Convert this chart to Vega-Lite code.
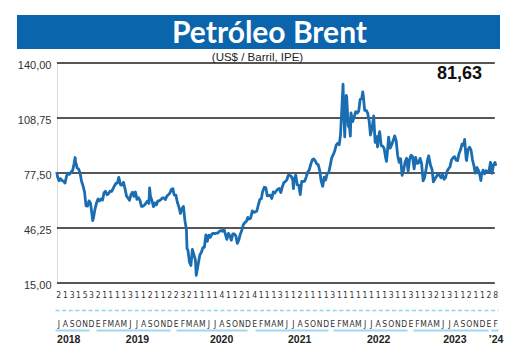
{
  "$schema": "https://vega.github.io/schema/vega-lite/v6.json",
  "background": "white",
  "padding": {"left": 17, "top": 15, "right": 5, "bottom": 5},
  "config": {"view": {"stroke": null}},
  "datasets": {
    "brent": [
      {"date":"2018-07-09","value":78.1},{"date":"2018-07-13","value":75.3},{"date":"2018-07-20","value":73.1},{"date":"2018-07-27","value":74.3},
      {"date":"2018-08-03","value":73.2},{"date":"2018-08-10","value":72.8},{"date":"2018-08-17","value":71.8},{"date":"2018-08-24","value":75.8},{"date":"2018-08-31","value":77.4},
      {"date":"2018-09-07","value":76.8},{"date":"2018-09-14","value":78.1},{"date":"2018-09-21","value":78.8},{"date":"2018-09-28","value":82.7},
      {"date":"2018-10-03","value":86.3},{"date":"2018-10-05","value":84.2},{"date":"2018-10-12","value":80.4},{"date":"2018-10-19","value":79.8},{"date":"2018-10-26","value":77.6},
      {"date":"2018-11-02","value":72.8},{"date":"2018-11-09","value":70.2},{"date":"2018-11-16","value":66.8},{"date":"2018-11-23","value":58.8},{"date":"2018-11-30","value":58.7},
      {"date":"2018-12-07","value":61.7},{"date":"2018-12-14","value":60.3},{"date":"2018-12-21","value":53.8},{"date":"2018-12-24","value":50.5},{"date":"2018-12-28","value":52.2},
      {"date":"2019-01-04","value":57.1},{"date":"2019-01-11","value":60.5},{"date":"2019-01-18","value":62.7},{"date":"2019-01-25","value":61.6},
      {"date":"2019-02-01","value":62.8},{"date":"2019-02-08","value":62.1},{"date":"2019-02-15","value":66.3},{"date":"2019-02-22","value":67.1},
      {"date":"2019-03-01","value":65.1},{"date":"2019-03-08","value":65.7},{"date":"2019-03-15","value":67.2},{"date":"2019-03-22","value":67.0},{"date":"2019-03-29","value":68.4},
      {"date":"2019-04-05","value":70.3},{"date":"2019-04-12","value":71.6},{"date":"2019-04-19","value":71.9},{"date":"2019-04-25","value":75.0},
      {"date":"2019-05-03","value":70.8},{"date":"2019-05-10","value":70.6},{"date":"2019-05-17","value":72.2},{"date":"2019-05-24","value":68.7},{"date":"2019-05-31","value":64.5},
      {"date":"2019-06-07","value":63.3},{"date":"2019-06-14","value":62.0},{"date":"2019-06-21","value":65.2},{"date":"2019-06-28","value":66.6},
      {"date":"2019-07-05","value":64.2},{"date":"2019-07-12","value":66.7},{"date":"2019-07-19","value":62.5},{"date":"2019-07-26","value":63.5},
      {"date":"2019-08-02","value":61.9},{"date":"2019-08-09","value":58.5},{"date":"2019-08-16","value":58.6},{"date":"2019-08-23","value":59.3},{"date":"2019-08-30","value":60.4},
      {"date":"2019-09-06","value":61.5},{"date":"2019-09-13","value":60.2},{"date":"2019-09-16","value":69.0},{"date":"2019-09-20","value":64.3},{"date":"2019-09-27","value":61.9},
      {"date":"2019-10-04","value":58.4},{"date":"2019-10-11","value":60.5},{"date":"2019-10-18","value":59.4},{"date":"2019-10-25","value":61.7},
      {"date":"2019-11-01","value":61.7},{"date":"2019-11-08","value":62.5},{"date":"2019-11-15","value":63.3},{"date":"2019-11-22","value":63.4},{"date":"2019-11-29","value":62.4},
      {"date":"2019-12-06","value":64.4},{"date":"2019-12-13","value":65.2},{"date":"2019-12-20","value":66.1},{"date":"2019-12-27","value":68.2},
      {"date":"2020-01-03","value":68.6},{"date":"2020-01-08","value":65.4},{"date":"2020-01-10","value":65.0},{"date":"2020-01-17","value":64.9},{"date":"2020-01-24","value":60.7},{"date":"2020-01-31","value":58.2},
      {"date":"2020-02-07","value":54.5},{"date":"2020-02-14","value":57.3},{"date":"2020-02-21","value":58.5},{"date":"2020-02-28","value":50.5},
      {"date":"2020-03-06","value":45.3},{"date":"2020-03-09","value":34.4},{"date":"2020-03-13","value":33.9},{"date":"2020-03-20","value":27.0},{"date":"2020-03-27","value":24.9},
      {"date":"2020-04-03","value":34.1},{"date":"2020-04-09","value":31.5},{"date":"2020-04-17","value":28.1},{"date":"2020-04-21","value":19.3},{"date":"2020-04-24","value":21.4},
      {"date":"2020-05-01","value":26.4},{"date":"2020-05-08","value":31.0},{"date":"2020-05-15","value":32.5},{"date":"2020-05-22","value":35.1},{"date":"2020-05-29","value":35.3},
      {"date":"2020-06-05","value":42.3},{"date":"2020-06-12","value":38.7},{"date":"2020-06-19","value":42.2},{"date":"2020-06-26","value":41.0},
      {"date":"2020-07-03","value":42.8},{"date":"2020-07-10","value":43.2},{"date":"2020-07-17","value":43.1},{"date":"2020-07-24","value":43.3},{"date":"2020-07-31","value":43.3},
      {"date":"2020-08-07","value":44.4},{"date":"2020-08-14","value":44.8},{"date":"2020-08-21","value":44.4},{"date":"2020-08-28","value":45.8},
      {"date":"2020-09-04","value":42.7},{"date":"2020-09-11","value":39.8},{"date":"2020-09-18","value":43.2},{"date":"2020-09-25","value":41.9},
      {"date":"2020-10-02","value":39.3},{"date":"2020-10-09","value":42.9},{"date":"2020-10-16","value":42.9},{"date":"2020-10-23","value":41.8},{"date":"2020-10-30","value":37.5},
      {"date":"2020-11-06","value":39.5},{"date":"2020-11-13","value":42.8},{"date":"2020-11-20","value":45.0},{"date":"2020-11-27","value":48.2},
      {"date":"2020-12-04","value":49.3},{"date":"2020-12-11","value":50.0},{"date":"2020-12-18","value":52.3},{"date":"2020-12-24","value":51.3},{"date":"2020-12-31","value":51.8},
      {"date":"2021-01-08","value":56.0},{"date":"2021-01-15","value":55.1},{"date":"2021-01-22","value":55.4},{"date":"2021-01-29","value":55.9},
      {"date":"2021-02-05","value":59.3},{"date":"2021-02-12","value":62.4},{"date":"2021-02-19","value":62.9},{"date":"2021-02-25","value":66.9},
      {"date":"2021-03-05","value":69.4},{"date":"2021-03-12","value":69.2},{"date":"2021-03-19","value":64.5},{"date":"2021-03-26","value":64.6},
      {"date":"2021-04-02","value":64.9},{"date":"2021-04-09","value":63.0},{"date":"2021-04-16","value":66.8},{"date":"2021-04-23","value":66.1},{"date":"2021-04-30","value":67.3},
      {"date":"2021-05-07","value":68.3},{"date":"2021-05-14","value":68.7},{"date":"2021-05-21","value":66.4},{"date":"2021-05-28","value":69.6},
      {"date":"2021-06-04","value":71.9},{"date":"2021-06-11","value":72.7},{"date":"2021-06-18","value":73.5},{"date":"2021-06-25","value":76.2},
      {"date":"2021-07-02","value":76.2},{"date":"2021-07-09","value":75.6},{"date":"2021-07-16","value":73.6},{"date":"2021-07-19","value":68.6},{"date":"2021-07-23","value":74.1},{"date":"2021-07-30","value":76.3},
      {"date":"2021-08-06","value":70.7},{"date":"2021-08-13","value":70.6},{"date":"2021-08-20","value":65.2},{"date":"2021-08-27","value":72.7},
      {"date":"2021-09-03","value":72.6},{"date":"2021-09-10","value":72.9},{"date":"2021-09-17","value":75.3},{"date":"2021-09-24","value":78.1},
      {"date":"2021-10-01","value":79.3},{"date":"2021-10-08","value":82.4},{"date":"2021-10-15","value":84.9},{"date":"2021-10-22","value":85.5},{"date":"2021-10-29","value":84.4},
      {"date":"2021-11-05","value":82.7},{"date":"2021-11-12","value":82.2},{"date":"2021-11-19","value":78.9},{"date":"2021-11-26","value":72.7},
      {"date":"2021-12-03","value":69.9},{"date":"2021-12-10","value":75.2},{"date":"2021-12-17","value":73.5},{"date":"2021-12-23","value":76.9},{"date":"2021-12-31","value":77.8},
      {"date":"2022-01-07","value":81.8},{"date":"2022-01-14","value":86.1},{"date":"2022-01-21","value":87.9},{"date":"2022-01-28","value":90.0},
      {"date":"2022-02-04","value":93.3},{"date":"2022-02-11","value":94.4},{"date":"2022-02-18","value":93.5},{"date":"2022-02-24","value":99.1},
      {"date":"2022-03-04","value":118.1},{"date":"2022-03-08","value":128.0},{"date":"2022-03-11","value":112.7},{"date":"2022-03-16","value":98.0},{"date":"2022-03-18","value":107.9},{"date":"2022-03-23","value":121.6},{"date":"2022-03-25","value":120.7},
      {"date":"2022-04-01","value":104.4},{"date":"2022-04-08","value":102.8},{"date":"2022-04-11","value":98.5},{"date":"2022-04-14","value":111.7},{"date":"2022-04-22","value":106.7},{"date":"2022-04-29","value":109.3},
      {"date":"2022-05-06","value":112.4},{"date":"2022-05-13","value":111.6},{"date":"2022-05-20","value":112.6},{"date":"2022-05-27","value":119.4},
      {"date":"2022-06-03","value":119.7},{"date":"2022-06-08","value":123.6},{"date":"2022-06-10","value":122.0},{"date":"2022-06-17","value":113.1},{"date":"2022-06-24","value":113.1},
      {"date":"2022-07-01","value":111.6},{"date":"2022-07-08","value":107.0},{"date":"2022-07-14","value":99.1},{"date":"2022-07-22","value":103.2},{"date":"2022-07-29","value":110.0},
      {"date":"2022-08-05","value":94.9},{"date":"2022-08-12","value":98.2},{"date":"2022-08-16","value":92.3},{"date":"2022-08-19","value":96.7},{"date":"2022-08-26","value":101.0},
      {"date":"2022-09-02","value":93.0},{"date":"2022-09-09","value":92.8},{"date":"2022-09-16","value":91.4},{"date":"2022-09-23","value":86.2},{"date":"2022-09-27","value":84.1},{"date":"2022-09-30","value":88.0},
      {"date":"2022-10-07","value":97.9},{"date":"2022-10-14","value":91.6},{"date":"2022-10-21","value":93.5},{"date":"2022-10-28","value":95.8},
      {"date":"2022-11-04","value":98.6},{"date":"2022-11-11","value":96.0},{"date":"2022-11-18","value":87.6},{"date":"2022-11-25","value":83.6},
      {"date":"2022-12-02","value":85.6},{"date":"2022-12-09","value":76.1},{"date":"2022-12-16","value":79.0},{"date":"2022-12-23","value":83.9},{"date":"2022-12-30","value":85.9},
      {"date":"2023-01-06","value":78.6},{"date":"2023-01-13","value":85.3},{"date":"2023-01-20","value":87.6},{"date":"2023-01-27","value":86.7},
      {"date":"2023-02-03","value":79.9},{"date":"2023-02-10","value":86.4},{"date":"2023-02-17","value":83.0},{"date":"2023-02-24","value":83.2},
      {"date":"2023-03-03","value":85.8},{"date":"2023-03-10","value":82.8},{"date":"2023-03-17","value":73.0},{"date":"2023-03-24","value":75.0},{"date":"2023-03-31","value":79.8},
      {"date":"2023-04-07","value":85.1},{"date":"2023-04-12","value":87.3},{"date":"2023-04-21","value":81.7},{"date":"2023-04-28","value":79.5},
      {"date":"2023-05-04","value":72.5},{"date":"2023-05-12","value":74.2},{"date":"2023-05-19","value":75.6},{"date":"2023-05-26","value":77.0},
      {"date":"2023-06-02","value":76.1},{"date":"2023-06-09","value":74.8},{"date":"2023-06-16","value":76.6},{"date":"2023-06-23","value":73.9},{"date":"2023-06-30","value":74.9},
      {"date":"2023-07-07","value":78.5},{"date":"2023-07-14","value":79.9},{"date":"2023-07-21","value":81.1},{"date":"2023-07-28","value":85.0},
      {"date":"2023-08-04","value":86.2},{"date":"2023-08-11","value":86.8},{"date":"2023-08-18","value":84.8},{"date":"2023-08-25","value":84.5},
      {"date":"2023-09-01","value":88.6},{"date":"2023-09-08","value":90.7},{"date":"2023-09-15","value":93.9},{"date":"2023-09-22","value":93.3},{"date":"2023-09-27","value":96.6},
      {"date":"2023-10-04","value":85.8},{"date":"2023-10-06","value":84.6},{"date":"2023-10-13","value":90.9},{"date":"2023-10-20","value":92.2},{"date":"2023-10-27","value":90.5},
      {"date":"2023-11-03","value":84.9},{"date":"2023-11-10","value":81.4},{"date":"2023-11-16","value":77.4},{"date":"2023-11-24","value":80.6},
      {"date":"2023-12-01","value":78.9},{"date":"2023-12-08","value":75.8},{"date":"2023-12-12","value":73.2},{"date":"2023-12-15","value":76.6},{"date":"2023-12-22","value":79.1},{"date":"2023-12-29","value":77.0},
      {"date":"2024-01-05","value":78.8},{"date":"2024-01-12","value":78.3},{"date":"2024-01-19","value":78.6},{"date":"2024-01-26","value":83.6},
      {"date":"2024-02-02","value":77.3},{"date":"2024-02-09","value":82.2},{"date":"2024-02-16","value":83.5},{"date":"2024-02-20","value":81.6}
    ],
    "grid": [{"level": 15}, {"level": 46.25}, {"level": 77.5}, {"level": 108.75}, {"level": 140}],
    "last": [{"date":"2023-09-03","value":134,"label":"81,63"}],
    "banner": [{"t":"Petróleo Brent"}]
  },
  "concat": [
    {
      "width": 483,
      "height": 34,
      "view": {"fill": "#0a65ad", "stroke": null},
      "data": {"name": "banner"},
      "mark": {"type": "text", "color": "white", "font": "Lato", "fontSize": 30, "fontWeight": "bold", "baseline": "alphabetic", "dx": 11, "dy": 11},
      "encoding": {"text": {"field": "t"}}
    },
    {
      "width": 481,
      "height": 220,
      "title": {"text": "(US$ / Barril, IPE)", "font": "Liberation Sans", "fontSize": 11.5, "fontWeight": "normal", "color": "#222", "offset": -4, "anchor": "middle"},
      "resolve": {"axis": {"x": "independent"}},
      "layer": [
        {
          "data": {"name": "grid"},
          "mark": {"type": "rule", "color": "#1e1e1e", "strokeWidth": 1.5},
          "encoding": {
            "x": {"datum": {"year": 2018, "month": 7, "date": 10}, "type": "temporal", "axis": null},
            "x2": {"datum": {"year": 2024, "month": 2, "date": 15}},
            "y": {
              "field": "level", "type": "quantitative",
              "scale": {"domain": [15, 140], "nice": false, "zero": false},
              "axis": {
                "title": null, "values": [15, 46.25, 77.5, 108.75, 140], "offset": -40,
                "labelExpr": "replace(format(datum.value, '.2f'), '.', ',')",
                "grid": false, "domain": true, "domainColor": "#dddddd", "ticks": false,
                "labelPadding": 6, "labelOffset": 2, "labelFont": "Liberation Sans", "labelFontSize": 11, "labelColor": "#333"
              }
            }
          }
        },
        {
          "data": {"name": "brent", "format": {"parse": {"date": "date:'%Y-%m-%d'"}}},
          "mark": {"type": "line", "color": "#1b6db2", "strokeWidth": 2.8, "strokeJoin": "round"},
          "encoding": {
            "x": {
              "field": "date", "type": "temporal",
              "scale": {"domain": [{"year": 2018, "month": 7, "date": 1}, {"year": 2024, "month": 3, "date": 1}], "range": [38, 481]},
              "axis": {
                "title": null, "orient": "bottom", "offset": 27, "grid": false, "ticks": false,
                "tickCount": {"interval": "month", "step": 1},
                "domain": true, "domainColor": "#8fd3ee", "domainWidth": 1.5, "domainDash": [4, 2.6],
                "labelExpr": "(year(datum.value)-2018)*12+month(datum.value)-6 > 67 ? '' : [substring('21315321111311211223211114112141113112111131111111131131132131121128', (year(datum.value)-2018)*12+month(datum.value)-6, (year(datum.value)-2018)*12+month(datum.value)-5), substring('EFMAMJJASOND', month(datum.value), month(datum.value)+1)]",
                "labelPadding": -20, "labelLineHeight": 29, "labelOffset": 3.3,
                "labelFont": "DejaVu Sans Condensed, Liberation Sans Narrow, Liberation Sans", "labelFontSize": 8.5, "labelColor": "#333",
                "labelOverlap": false, "labelFlush": false, "labelBound": false
              }
            },
            "y": {"field": "value", "type": "quantitative"}
          }
        },
        {
          "data": {"name": "last", "format": {"parse": {"date": "date:'%Y-%m-%d'"}}},
          "mark": {"type": "text", "font": "Liberation Sans", "fontSize": 18, "fontWeight": "bold", "color": "#111", "align": "center", "baseline": "middle"},
          "encoding": {
            "x": {
              "field": "date", "type": "temporal",
              "axis": {
                "title": null, "orient": "bottom", "offset": 47, "grid": false, "ticks": false,
                "values": [{"year": 2018, "month": 9, "date": 1}, {"year": 2019, "month": 7, "date": 19}, {"year": 2020, "month": 8, "date": 15}, {"year": 2021, "month": 8, "date": 15}, {"year": 2022, "month": 8, "date": 19}, {"year": 2023, "month": 8, "date": 10}, {"year": 2024, "month": 2, "date": 19}],
                "labelExpr": "year(datum.value) == 2024 ? '’24' : toString(year(datum.value))",
                "domain": true, "domainColor": "#9fd8ef", "domainWidth": 2, "domainDash": [34, 7, 74, 6, 71, 8, 73, 5, 74, 6, 75, 3, 10],
                "labelPadding": 4, "labelFont": "Liberation Sans Narrow, Liberation Sans", "labelFontSize": 10.5, "labelFontWeight": "bold", "labelColor": "#222",
                "labelOverlap": false, "labelFlush": false, "labelBound": false
              }
            },
            "y": {"field": "value", "type": "quantitative"},
            "text": {"field": "label"}
          }
        }
      ]
    }
  ],
  "columns": 1,
  "spacing": 2
}
